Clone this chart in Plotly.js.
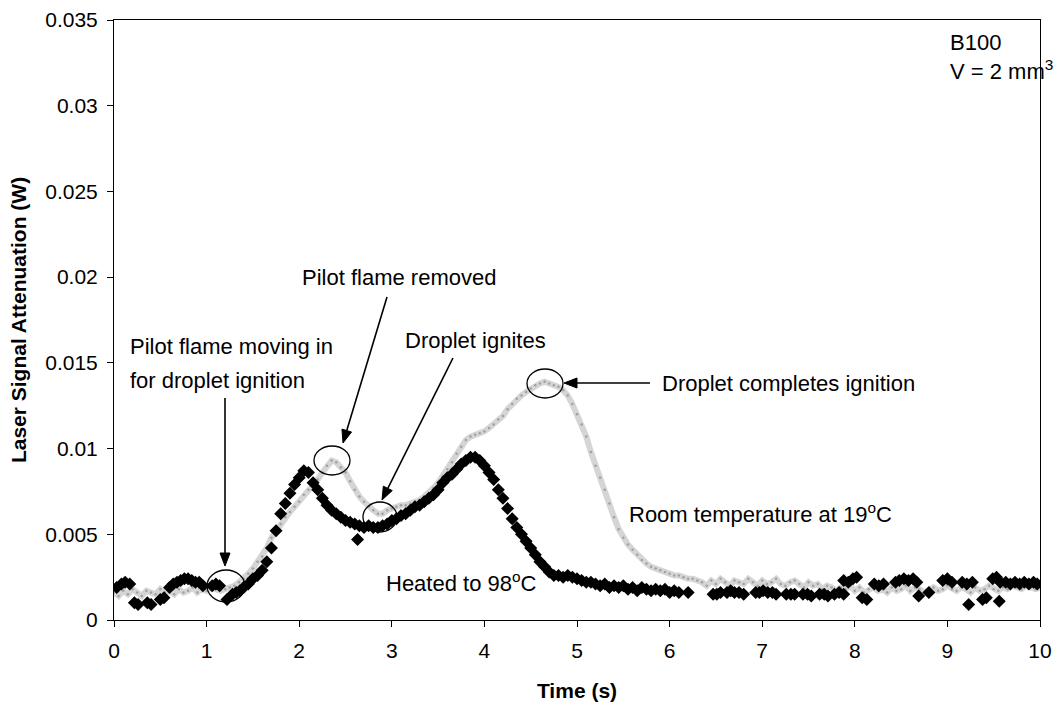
<!DOCTYPE html>
<html>
<head>
<meta charset="utf-8">
<script src="https://cdn.plot.ly/plotly-3.0.1.min.js"></script>
<style>html,body{margin:0;padding:0;background:#fff;}#chart{width:1061px;height:703px;}</style>
</head>
<body>
<div id="chart"></div>
<script>
// Room temperature (19 C) series: time (s) and attenuation (W)
var roomT = [
0.00,0.05,0.10,0.15,0.20,0.25,0.30,0.35,0.40,0.45,0.50,0.55,0.60,0.65,0.70,0.75,0.80,0.85,0.90,0.95,
1.00,1.05,1.10,1.15,1.20,1.25,1.30,1.35,1.40,1.45,1.50,1.55,1.60,1.65,1.70,1.75,1.80,1.85,1.90,1.95,
2.00,2.05,2.10,2.15,2.20,2.25,2.30,2.35,2.40,2.45,2.50,2.55,2.60,2.65,2.70,2.75,2.80,2.85,2.90,2.95,
3.00,3.05,3.10,3.15,3.20,3.25,3.30,3.35,3.40,3.45,3.50,3.55,3.60,3.65,3.70,3.75,3.80,3.85,3.90,3.95,
4.00,4.05,4.10,4.15,4.20,4.25,4.30,4.35,4.40,4.45,4.50,4.55,4.60,4.65,4.70,4.75,4.80,4.85,4.90,4.95,
5.00,5.05,5.10,5.15,5.20,5.25,5.30,5.35,5.40,5.45,5.50,5.55,5.60,5.65,5.70,5.75,5.80,5.85,5.90,5.95,
6.00,6.05,6.10,6.15,6.20,6.25,6.30,6.35,6.40,6.45,6.50,6.55,6.60,6.65,6.70,6.75,6.80,6.85,6.90,6.95,
7.00,7.05,7.10,7.15,7.20,7.25,7.30,7.35,7.40,7.45,7.50,7.55,7.60,7.65,7.70,7.75,7.80,7.85,7.90,7.95,
8.00,8.05,8.10,8.15,8.20,8.25,8.30,8.35,8.40,8.45,8.50,8.55,8.60,8.65,8.70,8.75,8.80,8.85,8.90,8.95,
9.00,9.05,9.10,9.15,9.20,9.25,9.30,9.35,9.40,9.45,9.50,9.55,9.60,9.65,9.70,9.75,9.80,9.85,9.90,9.95,
10.00];
var roomV = [
.0016,.0014,.0017,.0015,.0018,.0016,.0014,.0017,.0016,.0015,.0018,.0016,.0017,.0015,.0018,.0016,.0017,.0019,.0016,.0018,
.0017,.0019,.0018,.0017,.0018,.0019,.0020,.0022,.0024,.0027,.0030,.0034,.0037,.0042,.0048,.0052,.0056,.0060,.0063,.0066,
.0069,.0073,.0076,.0079,.0082,.0086,.0090,.0093,.0092,.0089,.0086,.0081,.0076,.0072,.0069,.0066,.0064,.0062,.0062,.0064,
.0065,.0066,.0067,.0067,.0068,.0069,.0070,.0072,.0074,.0077,.0080,.0084,.0088,.0092,.0097,.0101,.0105,.0107,.0108,.0109,
.0110,.0112,.0114,.0117,.0119,.0123,.0126,.0129,.0131,.0133,.0135,.0137,.0138,.0139,.0138,.0137,.0136,.0134,.0131,.0126,
.0120,.0114,.0107,.0098,.0090,.0083,.0076,.0068,.0060,.0053,.0048,.0044,.0041,.0038,.0035,.0033,.0031,.0030,.0029,.0028,
.0027,.0026,.0026,.0025,.0024,.0024,.0023,.0022,.0020,.0023,.0021,.0024,.0022,.0020,.0023,.0022,.0021,.0024,.0022,.0020,
.0023,.0021,.0022,.0024,.0021,.0020,.0022,.0023,.0021,.0019,.0022,.0020,.0021,.0018,.0020,.0019,.0017,.0019,.0018,.0020,
.0017,.0019,.0016,.0018,.0019,.0017,.0018,.0016,.0019,.0017,.0018,.0020,.0017,.0019,.0018,.0016,.0018,.0019,.0017,.0018,
.0020,.0018,.0017,.0019,.0018,.0016,.0019,.0017,.0018,.0020,.0018,.0017,.0019,.0018,.0020,.0019,.0018,.0020,.0019,.0018,
.0019];

// Heated (98 C) series
var heatedT = [
0.03,0.08,0.12,0.17,0.22,0.26,0.36,0.40,0.50,0.54,0.60,0.64,0.68,0.72,0.76,0.80,0.84,0.88,0.92,0.96,
1.06,1.10,1.14,1.22,1.28,1.32,1.36,1.40,1.45,1.50,1.55,1.60,1.65,1.70,1.75,1.80,1.85,1.90,1.95,
2.00,2.05,2.10,2.15,2.20,2.25,2.30,2.35,2.40,2.45,2.50,2.55,2.60,2.63,2.65,2.70,2.75,2.80,2.85,2.90,2.95,
3.00,3.05,3.10,3.15,3.20,3.25,3.30,3.35,3.40,3.45,3.50,3.55,3.60,3.65,3.70,3.75,3.80,3.85,3.90,3.95,
4.00,4.05,4.10,4.15,4.20,4.25,4.30,4.35,4.40,4.45,4.50,4.55,4.60,4.65,4.70,4.75,4.80,4.85,4.90,4.95,
5.00,5.05,5.10,5.15,5.20,5.25,5.30,5.35,5.40,5.45,5.50,5.55,5.60,5.65,5.70,5.75,5.80,5.85,5.90,5.95,
6.00,6.05,6.10,6.20,6.47,6.51,6.55,6.62,6.66,6.70,6.75,6.80,6.93,6.97,
7.01,7.06,7.11,7.15,7.26,7.31,7.35,7.44,7.49,7.53,7.62,7.67,7.71,7.78,7.83,7.88,7.88,7.93,7.98,
8.02,8.08,8.13,8.21,8.26,8.31,8.44,8.48,8.53,8.58,8.63,8.67,8.69,8.80,8.95,
9.00,9.05,9.16,9.21,9.23,9.27,9.38,9.42,9.49,9.53,9.56,9.57,9.63,9.68,9.73,9.78,9.83,9.88,9.93,9.97];
var heatedV = [
.0019,.0021,.0022,.0021,.0010,.0009,.0010,.0009,.0012,.0013,.0019,.0021,.0022,.0023,.0024,.0024,.0023,.0022,.0022,.0020,
.0020,.0021,.0020,.0012,.0015,.0016,.0017,.0019,.0021,.0024,.0026,.0029,.0034,.0042,.0052,.0062,.0068,.0074,.0079,
.0083,.0087,.0086,.0080,.0076,.0071,.0067,.0064,.0062,.0060,.0058,.0057,.0056,.0047,.0055,.0054,.0055,.0054,.0054,.0055,.0056,
.0058,.0059,.0061,.0062,.0064,.0066,.0067,.0069,.0071,.0073,.0076,.0080,.0083,.0085,.0088,.0091,.0093,.0095,.0095,.0093,
.0090,.0086,.0082,.0076,.0071,.0065,.0059,.0054,.0050,.0046,.0042,.0038,.0034,.0031,.0028,.0026,.0026,.0025,.0026,.0025,
.0024,.0023,.0022,.0022,.0021,.0020,.0021,.0019,.0020,.0019,.0020,.0018,.0019,.0017,.0019,.0018,.0017,.0018,.0017,.0018,
.0016,.0017,.0016,.0016,.0015,.0015,.0016,.0016,.0017,.0016,.0016,.0015,.0016,.0016,
.0017,.0016,.0016,.0015,.0015,.0015,.0015,.0015,.0015,.0014,.0015,.0015,.0014,.0015,.0016,.0015,.0023,.0022,.0024,
.0025,.0013,.0012,.0021,.0020,.0021,.0022,.0023,.0024,.0023,.0024,.0022,.0014,.0016,.0023,
.0024,.0022,.0022,.0021,.0009,.0022,.0012,.0013,.0024,.0025,.0011,.0022,.0022,.0021,.0022,.0021,.0022,.0021,.0022,.0021];

// Axis ticks
var xTickVals = [0,1,2,3,4,5,6,7,8,9,10];
var xTickText = ["0","1","2","3","4","5","6","7","8","9","10"];
var yTickVals = [0,0.005,0.01,0.015,0.02,0.025,0.03,0.035];
var yTickText = ["0","0.005","0.01","0.015","0.02","0.025","0.03","0.035"];

var FONT = "Liberation Sans, Arial, sans-serif";

var traces = [
  {
    x: roomT, y: roomV, type: "scatter", mode: "lines+markers",
    line: {color: "rgba(195,195,195,0.7)", width: 6},
    marker: {color: "#a0a0a0", size: 2.5, symbol: "circle"},
    hoverinfo: "skip", showlegend: false
  },
  {
    x: heatedT, y: heatedV, type: "scatter", mode: "markers",
    marker: {color: "#000", size: 10, symbol: "diamond", line: {width: 0}},
    hoverinfo: "skip", showlegend: false
  }
];

// pixel position helpers for annotation placement (layout only)
function px2t(px){ return (px - 114) / 92.6; }
function py2v(py){ return (620 - py) / (600 / 0.035); }

function txt(t, px, py){
  return {text: t, x: px2t(px), y: py2v(py), xref: "x", yref: "y",
    xanchor: "left", yanchor: "middle", showarrow: false,
    font: {family: FONT, size: 22, color: "#000"}};
}
// arrow as line shape + filled triangular head shape
function arrowShapes(tx, ty, hx, hy){
  var dx = hx - tx, dy = hy - ty, L = Math.sqrt(dx*dx + dy*dy);
  var ux = dx / L, uy = dy / L, nx = -uy, ny = ux;
  var hl = 13, hw = 5;
  var bx = hx - hl*ux, by = hy - hl*uy;
  var p1x = bx + hw*nx, p1y = by + hw*ny, p2x = bx - hw*nx, p2y = by - hw*ny;
  return [
    {type: "line", xref: "x", yref: "y",
     x0: px2t(tx), y0: py2v(ty), x1: px2t(bx), y1: py2v(by),
     line: {color: "#000", width: 1.6}},
    {type: "path", xref: "x", yref: "y",
     path: "M " + px2t(hx) + "," + py2v(hy) + " L " + px2t(p1x) + "," + py2v(p1y) +
           " L " + px2t(p2x) + "," + py2v(p2y) + " Z",
     fillcolor: "#000", line: {color: "#000", width: 1}}
  ];
}
function circ(x0, y0, x1, y1){
  return {type: "circle", xref: "x", yref: "y",
    x0: px2t(x0), x1: px2t(x1), y0: py2v(y1), y1: py2v(y0),
    line: {color: "#000", width: 1.3}};
}

var shapes = [
  circ(207, 570, 245, 602),
  circ(314, 446, 350, 475),
  circ(363, 502, 397, 532),
  circ(527, 369, 563, 398)
].concat(
  arrowShapes(225, 398, 225, 566),
  arrowShapes(387, 297, 343, 443),
  arrowShapes(453, 358, 382, 500),
  arrowShapes(650, 383, 564, 383)
);

var layout = {
  width: 1061, height: 703,
  margin: {l: 114, r: 21, t: 20, b: 83},
  paper_bgcolor: "#fff", plot_bgcolor: "#fff",
  font: {family: FONT, size: 21, color: "#000"},
  xaxis: {
    range: [0, 10], tickvals: xTickVals, ticktext: xTickText,
    showgrid: false, zeroline: false, showline: true, mirror: true,
    linecolor: "#000", linewidth: 1, ticks: "outside", ticklen: 6, tickcolor: "#000",
    ticklabelstandoff: 6,
    tickfont: {family: FONT, size: 21},
    title: {text: "<b>Time (s)</b>", font: {family: FONT, size: 21}, standoff: 22}
  },
  yaxis: {
    range: [0, 0.035], tickvals: yTickVals, ticktext: yTickText,
    showgrid: false, zeroline: false, showline: true, mirror: true,
    linecolor: "#000", linewidth: 1, ticks: "outside", ticklen: 6, tickcolor: "#000",
    ticklabelstandoff: 5,
    tickfont: {family: FONT, size: 21},
    title: {text: "<b>Laser Signal Attenuation (W)</b>", font: {family: FONT, size: 21}, standoff: 12}
  },
  annotations: [
    txt("Pilot flame moving in", 128, 346),
    txt("for droplet ignition", 128, 380),
    txt("Pilot flame removed", 300, 277),
    txt("Droplet ignites", 403, 340),
    txt("Droplet completes ignition", 660, 383),
    txt("Room temperature at 19<sup>o</sup>C", 627, 513),
    txt("Heated to 98<sup>o</sup>C", 384, 582),
    txt("B100", 948, 42),
    txt("V = 2 mm<sup>3</sup>", 948, 70)
  ],
  shapes: shapes
};

Plotly.newPlot("chart", traces, layout, {staticPlot: true, displayModeBar: false});
</script>
</body>
</html>
